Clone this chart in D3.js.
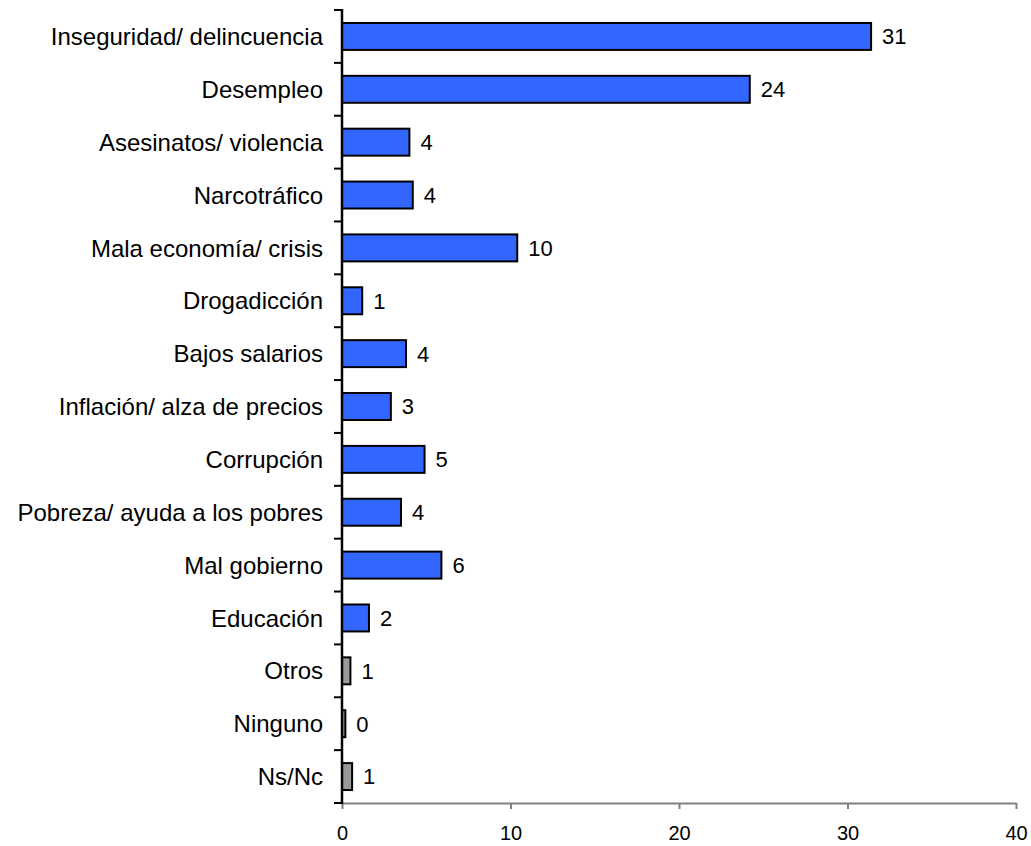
<!DOCTYPE html>
<html><head><meta charset="utf-8">
<script src="https://cdn.jsdelivr.net/npm/d3@7"></script>
<style>body{margin:0;background:#fff;} svg{display:block;}</style>
</head><body>
<svg id="c" width="1031" height="846"></svg>
<script>
const categories = ["Inseguridad/ delincuencia","Desempleo","Asesinatos/ violencia","Narcotráfico","Mala economía/ crisis","Drogadicción","Bajos salarios","Inflación/ alza de precios","Corrupción","Pobreza/ ayuda a los pobres","Mal gobierno","Educación","Otros","Ninguno","Ns/Nc"];
const values = [31.4,24.2,4.0,4.2,10.4,1.2,3.8,2.9,4.9,3.5,5.9,1.6,0.5,0.2,0.6];
const labels = ["31","24","4","4","10","1","4","3","5","4","6","2","1","0","1"];
const grayCats = ["Otros","Ninguno","Ns/Nc"];
const xTicks = [0,10,20,30,40];

const svg = d3.select("#c");
const m = {left:342, right:1016, top:10, bottom:803};
const x = d3.scaleLinear().domain([0,40]).range([m.left,m.right]);
const y = d3.scaleBand().domain(categories).range([m.top,m.bottom]).paddingInner(0.49).paddingOuter(0.245);
const yb = d3.scaleBand().domain(categories).range([m.top,m.bottom]);
const font = "Liberation Sans, Arial, sans-serif";

// bars
svg.append("g").selectAll("rect").data(categories).join("rect")
  .attr("x", x(0))
  .attr("y", d=>y(d))
  .attr("width", (d,i)=>x(values[i])-x(0))
  .attr("height", y.bandwidth())
  .attr("fill", d=>grayCats.includes(d)?"#999999":"#3366FF")
  .attr("stroke","#000").attr("stroke-width",2);

// value labels
svg.append("g").selectAll("text").data(categories).join("text")
  .attr("x",(d,i)=>x(values[i])+11)
  .attr("y", d=>yb(d)+yb.bandwidth()/2)
  .attr("dy","0.36em")
  .attr("font-family",font).attr("font-size","22px").attr("fill","#000")
  .text((d,i)=>labels[i]);

// x axis
const xg = svg.append("g").attr("transform",`translate(0,${m.bottom})`)
  .call(d3.axisBottom(x).tickValues(xTicks).tickSize(6).tickSizeOuter(0).tickPadding(17));
xg.select(".domain").attr("stroke","#808080").attr("stroke-width",2);
xg.selectAll(".tick line").attr("stroke","#808080").attr("stroke-width",2);
xg.selectAll(".tick text").attr("font-family",font).attr("font-size","20px").attr("fill","#000");

// y axis: boundary ticks
const bounds = categories.map(d=>yb(d)).concat([m.bottom]);
svg.append("g").selectAll("line").data(bounds).join("line")
  .attr("x1",m.left-8).attr("x2",m.left).attr("y1",d=>d).attr("y2",d=>d)
  .attr("stroke","#000").attr("stroke-width",2);
svg.append("line").attr("x1",m.left).attr("x2",m.left).attr("y1",m.top-1).attr("y2",m.bottom+1)
  .attr("stroke","#000").attr("stroke-width",2.5);

// category labels
svg.append("g").selectAll("text").data(categories).join("text")
  .attr("x",323)
  .attr("y", d=>yb(d)+yb.bandwidth()/2)
  .attr("dy","0.36em")
  .attr("text-anchor","end")
  .attr("font-family",font).attr("font-size","24px").attr("fill","#000")
  .text(d=>d);
</script>
</body></html>
